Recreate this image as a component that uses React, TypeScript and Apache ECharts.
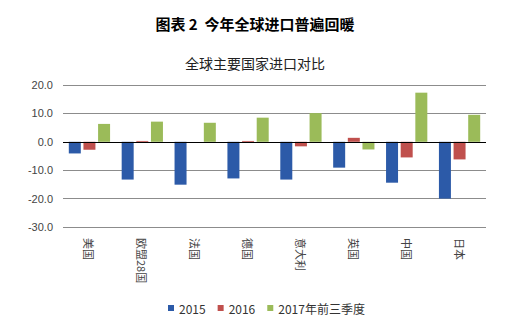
import React, { useEffect, useRef } from "react";
import * as echarts from "echarts";

const categories = ["美国", "欧盟28国", "法国", "德国", "意大利", "英国", "中国", "日本"];
const seriesNames = ["2015", "2016", "2017年前三季度"];
const values2015 = [-4.1, -13.3, -15.1, -12.9, -13.3, -9.1, -14.4, -20.0];
const values2016 = [-2.8, 0.3, 0.0, 0.3, -1.6, 1.4, -5.5, -6.2];
const values2017 = [6.3, 7.1, 6.7, 8.5, 10.1, -2.7, 17.3, 9.5];
const colors = ["#2C5AA8", "#C0504D", "#9BBB59"];

export default function App() {
  const ref = useRef<HTMLDivElement>(null);
  useEffect(() => {
    const chart = echarts.init(ref.current!, null, { renderer: "svg" });
    const font = "'Noto Sans CJK SC', 'Noto Sans', sans-serif";
    const data = [values2015, values2016, values2017];
    chart.setOption({
      animation: false,
      textStyle: { fontFamily: font },
      title: [
        {
          text: "图表 2  今年全球进口普遍回暖",
          left: "center",
          top: 11,
          textStyle: { fontSize: 15, fontWeight: "bold", color: "#000", fontFamily: font },
        },
        {
          text: "全球主要国家进口对比",
          left: "center",
          top: 51,
          textStyle: { fontSize: 14, fontWeight: "normal", color: "#222", fontFamily: font },
        },
      ],
      legend: {
        data: seriesNames,
        left: 163,
        top: 297,
        icon: "rect",
        itemWidth: 6,
        itemHeight: 6,
        itemGap: 12,
        textStyle: { fontSize: 12, color: "#333", fontFamily: font },
      },
      grid: { left: 63, right: 24, top: 85, bottom: 96, containLabel: false },
      xAxis: {
        type: "category",
        data: categories,
        axisLine: { show: false, onZero: false },
        axisTick: { show: false },
        axisLabel: {
          rotate: -90,
          margin: 11,
          fontSize: 11,
          color: "#444",
          interval: 0,
          fontFamily: font,
        },
      },
      yAxis: {
        type: "value",
        min: -30,
        max: 20,
        interval: 10,
        axisLine: { show: false },
        axisTick: { show: false },
        axisLabel: {
          formatter: (v: number) => v.toFixed(1),
          fontSize: 11,
          color: "#444",
          margin: 10,
          fontFamily: "'Liberation Sans', Arial, sans-serif",
        },
        splitLine: { lineStyle: { color: "#8c8c8c", width: 1 } },
      },
      series: seriesNames.map((name, i) => ({
        name,
        type: "bar",
        data: data[i],
        barWidth: 12,
        barGap: "22%",
        itemStyle: { color: colors[i] },
        ...(i === 0
          ? {
              markLine: {
                silent: true,
                symbol: "none",
                label: { show: false },
                lineStyle: { color: "#000", width: 1, type: "solid" },
                data: [{ yAxis: 0 }],
                z: 10,
              },
            }
          : {}),
      })),
    });
    return () => chart.dispose();
  }, []);
  return (
    <div
      ref={ref}
      style={{ position: "fixed", left: 0, top: 0, width: 510, height: 323, background: "#fff" }}
    />
  );
}
